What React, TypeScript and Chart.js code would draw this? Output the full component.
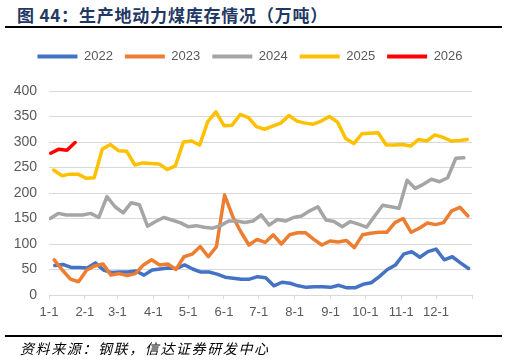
import React, { useEffect, useRef } from "react";
import { Chart, registerables } from "chart.js";

Chart.register(...registerables);

// ---- data ----
const seriesNames = ["2022", "2023", "2024", "2025", "2026"];
// day-of-year of the first weekly reading for each year
const firstWeekDay = [5, 4.5, 1, 4, 1.5];

const values2022 = [58, 60, 54, 54, 53, 63, 49, 44, 45, 45, 47, 39, 49, 51, 53, 52, 59, 51, 45, 45, 41, 35, 33, 31, 31, 36, 34, 18, 25, 23, 18, 15, 16, 16, 15, 19, 14, 14, 21, 24, 36, 50, 59, 80, 85, 74, 85, 90, 69, 75, 63, 52];
const values2023 = [69, 49, 31, 26, 49, 57, 61, 39, 42, 38, 42, 59, 69, 59, 61, 50, 75, 80, 95, 75, 95, 196, 154, 124, 98, 109, 103, 118, 100, 118, 122, 122, 109, 98, 106, 104, 107, 93, 118, 121, 123, 123, 142, 150, 123, 131, 141, 138, 142, 165, 172, 155];
const values2024 = [150, 160, 157, 157, 157, 160, 152, 193, 173, 161, 181, 177, 135, 144, 152, 147, 142, 134, 136, 133, 131, 136, 145, 145, 142, 145, 157, 137, 148, 145, 152, 155, 165, 173, 147, 144, 134, 144, 139, 133, 155, 176, 173, 170, 225, 209, 217, 227, 222, 230, 268, 269];
const values2025 = [245, 234, 237, 237, 229, 230, 286, 295, 283, 282, 255, 259, 258, 257, 246, 253, 300, 302, 294, 340, 359, 332, 333, 354, 348, 330, 325, 331, 337, 352, 341, 337, 335, 341, 350, 339, 307, 297, 316, 317, 318, 294, 294, 295, 292, 305, 302, 314, 309, 302, 303, 305];
const values2026 = [278, 286, 284, 299];

const monthTickDays = [0, 31, 59, 90, 120, 151, 181, 212, 243, 273, 304, 334, 365];
const monthTickLabels = ["1-1", "2-1", "3-1", "4-1", "5-1", "6-1", "7-1", "8-1", "9-1", "10-1", "11-1", "12-1", ""];

const yMin = 0;
const yMax = 400;
const yStep = 50;

// ---- styles ----
const lineColors = ["#4472C4", "#ED7D31", "#A5A5A5", "#FFC000", "#FF0000"];
const axisText = "#595959";
const gridColor = "#d9d9d9";
const fontFamily = "'Liberation Sans', Arial, sans-serif";

const legendSpacer = {
  id: "legendSpacer",
  beforeInit(chart: any) {
    const origFit = chart.legend.fit;
    chart.legend.fit = function () {
      origFit.bind(chart.legend)();
      this.height = 53;
    };
  },
  afterLayout(chart: any) {
    chart.legend.left += 14;
    chart.legend.right += 14;
  },
};

export default function App() {
  const ref = useRef<HTMLCanvasElement>(null);

  useEffect(() => {
    const allValues = [values2022, values2023, values2024, values2025, values2026];
    const chart = new Chart(ref.current!, {
      type: "line",
      data: {
        datasets: seriesNames.map((name, k) => ({
          label: name,
          data: allValues[k].map((v, i) => ({ x: firstWeekDay[k] + 7 * i, y: v })),
          borderColor: lineColors[k],
          backgroundColor: lineColors[k],
          borderWidth: 3.5,
          pointRadius: 0,
          pointHoverRadius: 0,
          tension: 0,
          borderJoinStyle: "round",
          borderCapStyle: "round",
          order: seriesNames.length - k,
        })),
      },
      options: {
        responsive: false,
        animation: false,
        events: [],
        layout: { padding: { top: 38, left: 0, right: 35, bottom: 35 } },
        plugins: {
          tooltip: { enabled: false },
          legend: {
            position: "top",
            align: "center",
            labels: {
              boxWidth: 40,
              boxHeight: 4,
              padding: 12,
              color: axisText,
              font: { family: fontFamily, size: 13 },
              sort: (a: any, b: any) => a.datasetIndex - b.datasetIndex,
              generateLabels: (c: any) =>
                (Chart as any).defaults.plugins.legend.labels.generateLabels(c).map((l: any) => ({
                  ...l,
                  lineWidth: 0,
                  fillStyle: l.strokeStyle,
                })),
            },
          },
        },
        scales: {
          x: {
            type: "linear",
            min: 0,
            max: 365,
            afterBuildTicks: (s: any) => {
              s.ticks = monthTickDays.map((v) => ({ value: v }));
            },
            afterFit: (s: any) => {
              s.height = 30;
            },
            ticks: {
              autoSkip: false,
              maxRotation: 0,
              padding: 6,
              color: axisText,
              font: { family: fontFamily, size: 13 },
              callback: (v: any) => monthTickLabels[monthTickDays.indexOf(Number(v))] ?? "",
            },
            grid: { drawOnChartArea: false, drawTicks: true, tickLength: 4, color: gridColor },
            border: { color: gridColor },
          },
          y: {
            min: yMin,
            max: yMax,
            afterFit: (s: any) => {
              s.width = 49;
            },
            ticks: {
              stepSize: yStep,
              padding: 12,
              color: axisText,
              font: { family: fontFamily, size: 14 },
            },
            grid: { color: gridColor, drawTicks: false },
            border: { display: false },
          },
        },
      },
      plugins: [legendSpacer],
    } as any);
    return () => chart.destroy();
  }, []);

  return (
    <div style={{ position: "fixed", left: 0, top: 0, width: 507, height: 360, background: "#fff", overflow: "hidden" }}>
      <div
        style={{
          position: "absolute",
          left: 17,
          top: 3,
          fontFamily: "'Noto Sans CJK SC', sans-serif",
          fontWeight: 700,
          fontSize: 17,
          letterSpacing: 0.8,
          lineHeight: "24px",
          color: "#1F3864",
          whiteSpace: "nowrap",
        }}
      >
        图 44：生产地动力煤库存情况（万吨）
      </div>
      <div style={{ position: "absolute", left: 5, top: 26, width: 497, height: 2, background: "#000" }} />
      <canvas ref={ref} width={507} height={360} style={{ position: "absolute", left: 0, top: 0 }} />
      <div style={{ position: "absolute", left: 5, top: 335, width: 497, height: 2, background: "#000" }} />
      <div
        style={{
          position: "absolute",
          left: 20,
          top: 339,
          fontFamily: "'Noto Sans CJK SC', sans-serif",
          fontStyle: "italic",
          fontSize: 14,
          letterSpacing: 1.6,
          lineHeight: "18px",
          color: "#000",
          whiteSpace: "nowrap",
        }}
      >
        资料来源：钢联，信达证券研发中心
      </div>
    </div>
  );
}
